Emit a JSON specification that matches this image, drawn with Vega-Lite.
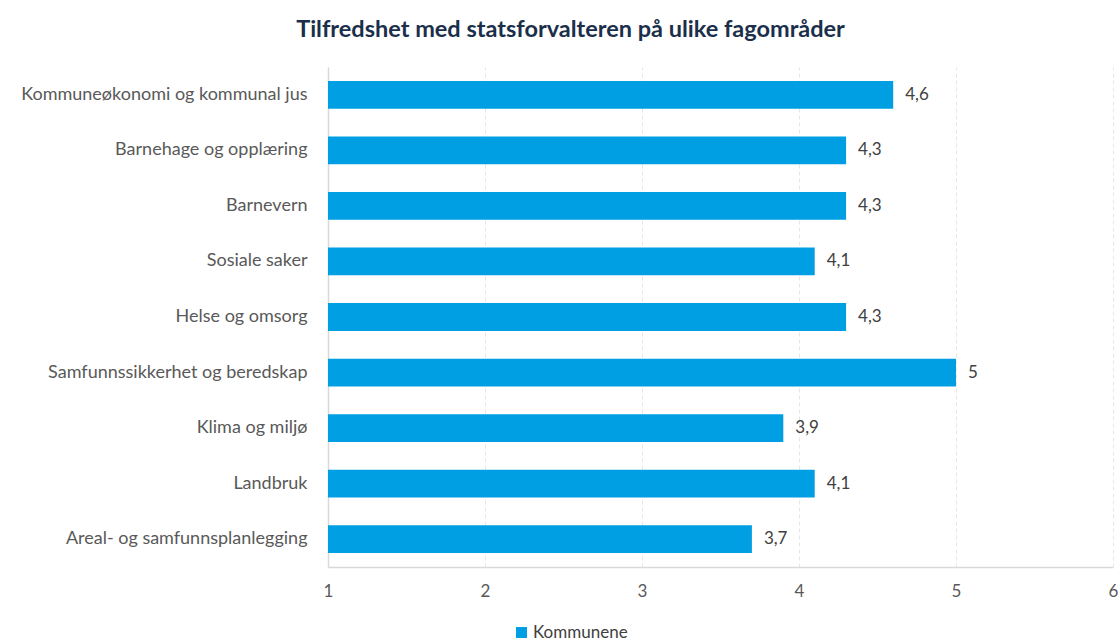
{
  "$schema": "https://vega.github.io/schema/vega-lite/v6.json",
  "autosize": {"type": "none"},
  "width": 785,
  "height": 500,
  "padding": {"left": 328, "top": 67, "right": 5, "bottom": 75},
  "background": "white",
  "title": {
    "text": "Tilfredshet med statsforvalteren på ulike fagområder",
    "font": "Lato",
    "fontSize": 23.5,
    "fontWeight": "bold",
    "color": "#1b2f4b",
    "anchor": "middle",
    "dx": -150,
    "offset": 26
  },
  "config": {
    "locale": {"number": {"decimal": ",", "thousands": " ", "grouping": [3], "currency": ["", " kr"]}},
    "view": {"stroke": null},
    "font": "Lato"
  },
  "data": {
    "values": [
      {"fagomrade": "Kommuneøkonomi og kommunal jus", "verdi": 4.6, "serie": "Kommunene"},
      {"fagomrade": "Barnehage og opplæring", "verdi": 4.3, "serie": "Kommunene"},
      {"fagomrade": "Barnevern", "verdi": 4.3, "serie": "Kommunene"},
      {"fagomrade": "Sosiale saker", "verdi": 4.1, "serie": "Kommunene"},
      {"fagomrade": "Helse og omsorg", "verdi": 4.3, "serie": "Kommunene"},
      {"fagomrade": "Samfunnssikkerhet og beredskap", "verdi": 5.0, "serie": "Kommunene"},
      {"fagomrade": "Klima og miljø", "verdi": 3.9, "serie": "Kommunene"},
      {"fagomrade": "Landbruk", "verdi": 4.1, "serie": "Kommunene"},
      {"fagomrade": "Areal- og samfunnsplanlegging", "verdi": 3.7, "serie": "Kommunene"}
    ]
  },
  "encoding": {
    "y": {
      "field": "fagomrade",
      "type": "nominal",
      "sort": null,
      "title": null,
      "scale": {"paddingInner": 0.5, "paddingOuter": 0.25},
      "axis": {
        "labelFont": "Lato",
        "labelFontSize": 18,
        "labelColor": "#595959",
        "labelPadding": 21,
        "ticks": false,
        "domainColor": "#d9d9d9",
        "domainWidth": 1.5,
        "labelLimit": 330
      }
    }
  },
  "layer": [
    {
      "mark": {"type": "bar", "color": "#009fe3"},
      "encoding": {
        "x": {
          "field": "verdi",
          "type": "quantitative",
          "title": null,
          "scale": {"domain": [1, 6], "nice": false, "zero": false},
          "axis": {
            "values": [1, 2, 3, 4, 5, 6],
            "format": "d",
            "labelFont": "Lato",
            "labelFontSize": 17,
            "labelColor": "#595959",
            "labelPadding": 16,
            "ticks": false,
            "domainColor": "#d9d9d9",
            "domainWidth": 1.5,
            "grid": true,
            "gridColor": "#e6e6e6",
            "gridDash": [4, 3],
            "gridWidth": 1,
            "labelFlush": false
          }
        },
        "x2": {"datum": 1},
        "color": {
          "field": "serie",
          "type": "nominal",
          "scale": {"range": ["#009fe3"]},
          "legend": {
            "title": null,
            "orient": "none",
            "legendX": 185,
            "legendY": 557,
            "symbolType": "square",
            "symbolSize": 120,
            "labelFont": "Lato",
            "labelFontSize": 17,
            "labelColor": "#404040",
            "labelOffset": 3
          }
        }
      }
    },
    {
      "mark": {"type": "text", "align": "left", "baseline": "middle", "dx": 12, "fontSize": 17, "color": "#404040", "font": "Lato"},
      "encoding": {
        "x": {"field": "verdi", "type": "quantitative"},
        "text": {"field": "verdi", "type": "quantitative", "format": ".2~f"}
      }
    }
  ]
}
